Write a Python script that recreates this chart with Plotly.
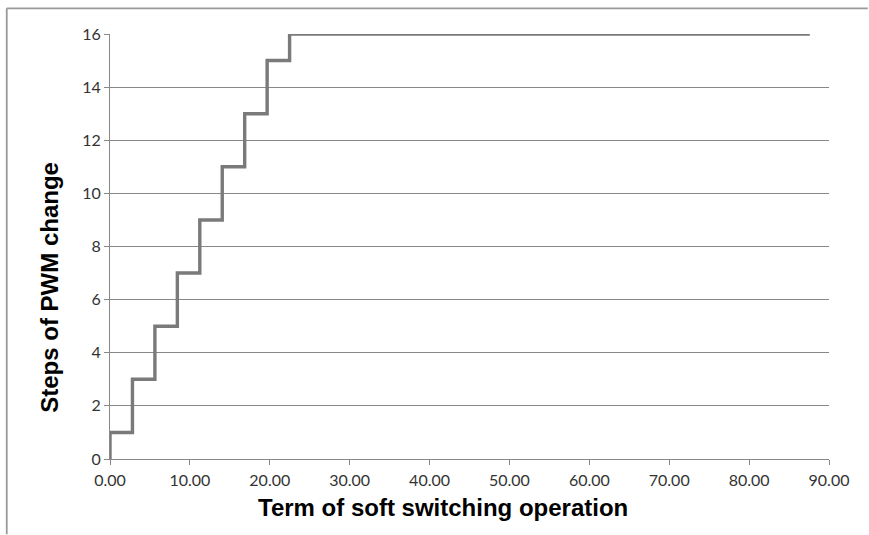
import plotly.graph_objects as go

# Data (step changes)
term = [0.0, 0.0, 2.81, 5.62, 8.43, 11.24, 14.05, 16.86, 19.67, 22.48, 87.6]
steps = [0, 1, 3, 5, 7, 9, 11, 13, 15, 16, 16]
x_ticks = [0, 10, 20, 30, 40, 50, 60, 70, 80, 90]
y_ticks = [0, 2, 4, 6, 8, 10, 12, 14, 16]

fig = go.Figure()
fig.add_trace(go.Scatter(
    x=term, y=steps, mode="lines", line=dict(color="#7a7a7a", width=3.4, shape="hv"),
    showlegend=False, cliponaxis=False, hoverinfo="skip",
))

tick_font = dict(family="Lato, 'Open Sans', sans-serif", size=16, color="#333333")
title_font = dict(family="'Liberation Sans', Arial, sans-serif", size=24, color="#000000")

fig.update_layout(
    width=869, height=535,
    margin=dict(l=110, r=40, t=34, b=76, autoexpand=False),
    paper_bgcolor="white", plot_bgcolor="white",
    xaxis=dict(
        range=[0, 90], tickvals=x_ticks, ticktext=[f"{v:.2f}" for v in x_ticks],
        showgrid=False, zeroline=False, showline=True, linecolor="#888888", linewidth=1,
        ticks="outside", ticklen=5, tickcolor="#888888", tickfont=tick_font,
        ticklabelstandoff=2,
    ),
    yaxis=dict(
        range=[0, 16], tickvals=y_ticks,
        showgrid=True, gridcolor="#888888", gridwidth=1, zeroline=False,
        showline=True, linecolor="#888888", linewidth=1,
        ticks="outside", ticklen=5, tickcolor="#888888", tickfont=tick_font,
    ),
    annotations=[
        dict(text="<b>Term of soft switching operation</b>", xref="paper", yref="paper",
             x=0.4636, y=-0.113, xanchor="center", yanchor="middle", showarrow=False,
             font=title_font),
        dict(text="<b>Steps of PWM change</b>", xref="paper", yref="paper",
             x=-0.0834, y=0.403, xanchor="center", yanchor="middle", showarrow=False,
             textangle=-90, font=title_font),
    ],
)

# outer chart border (left and top edges visible), kept inside the figure
fig.add_shape(type="line", xref="paper", yref="paper", x0=-0.1436, x1=1.054, y0=1.0604, y1=1.0604,
              line=dict(color="#999999", width=1.8))
fig.add_shape(type="line", xref="paper", yref="paper", x0=-0.1436, x1=-0.1436, y0=-0.177, y1=1.0604,
              line=dict(color="#999999", width=1.8))

fig.write_html("out.html", config={"displayModeBar": False},
               post_script="document.body.style.margin='0px';document.body.style.overflow='hidden';")
